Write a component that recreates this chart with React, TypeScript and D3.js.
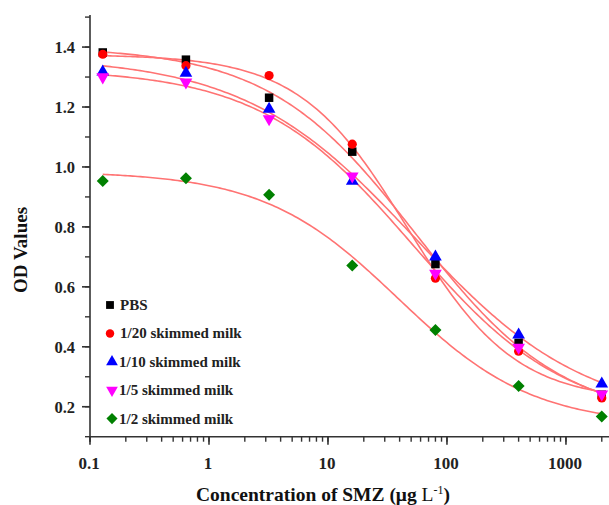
import React, { useRef, useEffect } from "react";
import * as d3 from "d3";

const concentrations = [0.128, 0.64, 3.2, 16, 80, 400, 2000];
const seriesNames = [
  "PBS",
  "1/20 skimmed milk",
  "1/10 skimmed milk",
  "1/5 skimmed milk",
  "1/2 skimmed milk",
];
const pbsValues = [1.382, 1.358, 1.231, 1.051, 0.676, 0.413, 0.24];
const milk20Values = [1.376, 1.338, 1.305, 1.076, 0.629, 0.385, 0.229];
const milk10Values = [1.317, 1.313, 1.193, 0.953, 0.7, 0.44, 0.276];
const milk5Values = [1.3, 1.283, 1.16, 0.969, 0.645, 0.398, 0.242];
const milk2Values = [0.953, 0.962, 0.907, 0.671, 0.456, 0.269, 0.167];
const seriesValues = [pbsValues, milk20Values, milk10Values, milk5Values, milk2Values];
const seriesColors = ["#000000", "#ff0000", "#0000ff", "#ff00ff", "#008000"];
const yTicks = [0.2, 0.4, 0.6, 0.8, 1.0, 1.2, 1.4];
const xTicks = [0.1, 1, 10, 100, 1000];

// four-parameter logistic, fitted to each series (like the original curves)
const logistic = (p, x) => p[1] + (p[0] - p[1]) / (1 + Math.pow(x / Math.exp(p[2]), p[3]));

function nelderMead(f, x0, steps, iters = 3000) {
  const n = x0.length;
  let pts = [x0.slice()];
  for (let i = 0; i < n; i++) {
    const p = x0.slice();
    p[i] += steps[i];
    pts.push(p);
  }
  let vals = pts.map(f);
  for (let k = 0; k < iters; k++) {
    const order = d3.range(n + 1).sort((a, b) => vals[a] - vals[b]);
    pts = order.map((i) => pts[i]);
    vals = order.map((i) => vals[i]);
    const c = d3.range(n).map((j) => d3.mean(pts.slice(0, n), (p) => p[j]));
    const worst = pts[n];
    const at = (t) => c.map((cj, j) => cj + t * (worst[j] - cj));
    const xr = at(-1);
    const fr = f(xr);
    if (fr < vals[0]) {
      const xe = at(-2);
      const fe = f(xe);
      if (fe < fr) { pts[n] = xe; vals[n] = fe; } else { pts[n] = xr; vals[n] = fr; }
    } else if (fr < vals[n - 1]) {
      pts[n] = xr; vals[n] = fr;
    } else {
      const xc = at(0.5);
      const fc = f(xc);
      if (fc < vals[n]) {
        pts[n] = xc; vals[n] = fc;
      } else {
        for (let i = 1; i <= n; i++) {
          pts[i] = pts[i].map((v, j) => pts[0][j] + 0.5 * (v - pts[0][j]));
          vals[i] = f(pts[i]);
        }
      }
    }
  }
  return pts[d3.minIndex(vals)];
}

function fitSeries(values) {
  const sse = (p) => d3.sum(concentrations, (x, i) => (logistic(p, x) - values[i]) ** 2);
  const start = [d3.max(values), d3.min(values) - 0.05, Math.log(40), 0.8];
  return nelderMead(sse, start, [0.05, 0.05, 0.5, 0.2]);
}

const width = 609;
const height = 505;

export default function App() {
  const svgRef = useRef(null);

  useEffect(() => {
    const svg = d3.select(svgRef.current);
    svg.selectAll("*").remove();

    const x = d3.scaleLog().domain([0.1, 2300]).range([90, 609]);
    const y = d3.scaleLinear().domain([0.1, 1.507]).range([436.7, 15]);
    const font = "'Liberation Serif', 'Times New Roman', serif";

    // axes
    const axisColor = "#333";
    const g = svg.append("g");
    g.append("line").attr("x1", 90).attr("x2", 90).attr("y1", y(1.507)).attr("y2", y(0.1) + 5)
      .attr("stroke", axisColor).attr("stroke-width", 1.6);
    g.append("line").attr("x1", 90).attr("x2", 609).attr("y1", y(0.1)).attr("y2", y(0.1))
      .attr("stroke", axisColor).attr("stroke-width", 1.6);

    const yMinor = d3.range(0.1, 1.51, 0.1);
    g.selectAll(".ymin").data(yMinor).join("line")
      .attr("x1", 85).attr("x2", 90)
      .attr("y1", (d) => y(d)).attr("y2", (d) => y(d))
      .attr("stroke", axisColor).attr("stroke-width", 1.4);
    g.selectAll(".ymaj").data(yTicks).join("line")
      .attr("x1", 82).attr("x2", 90)
      .attr("y1", (d) => y(d)).attr("y2", (d) => y(d))
      .attr("stroke", axisColor).attr("stroke-width", 1.6);
    g.selectAll(".ylab").data(yTicks).join("text")
      .attr("x", 75).attr("y", (d) => y(d) + 6)
      .attr("text-anchor", "end")
      .attr("font-family", font).attr("font-weight", "bold").attr("font-size", 16.5)
      .attr("fill", "#222")
      .text((d) => d3.format(".1f")(d));

    const xMinor = x.ticks().filter((t) => t < 2300);
    g.selectAll(".xmin").data(xMinor).join("line")
      .attr("x1", (d) => x(d)).attr("x2", (d) => x(d))
      .attr("y1", y(0.1)).attr("y2", y(0.1) + 5)
      .attr("stroke", axisColor).attr("stroke-width", 1.4);
    g.selectAll(".xmaj").data(xTicks).join("line")
      .attr("x1", (d) => x(d)).attr("x2", (d) => x(d))
      .attr("y1", y(0.1)).attr("y2", y(0.1) + 8)
      .attr("stroke", axisColor).attr("stroke-width", 1.6);
    g.selectAll(".xlab").data(xTicks).join("text")
      .attr("x", (d) => x(d) - 1).attr("y", 469)
      .attr("text-anchor", "middle")
      .attr("font-family", font).attr("font-weight", "bold").attr("font-size", 17)
      .attr("fill", "#222")
      .text((d) => String(d));

    // axis titles
    svg.append("text")
      .attr("transform", "translate(27,250) rotate(-90)")
      .attr("text-anchor", "middle")
      .attr("font-family", font).attr("font-weight", "bold").attr("font-size", 19)
      .attr("fill", "#111")
      .text("OD Values");
    const xt = svg.append("text")
      .attr("x", 323).attr("y", 501)
      .attr("text-anchor", "middle")
      .attr("font-family", font).attr("font-weight", "bold").attr("font-size", 19.5)
      .attr("fill", "#111");
    xt.append("tspan").text("Concentration of SMZ (\u03bcg ");
    xt.append("tspan").attr("font-weight", "normal").text("L");
    xt.append("tspan").attr("font-weight", "normal").attr("font-size", 12).attr("dy", -7).text("-1");
    xt.append("tspan").attr("dy", 7).text(")");

    // fitted curves
    const samples = d3.range(0, 201).map((i) => 0.128 * Math.pow(2000 / 0.128, i / 200));
    const line = d3.line().x((d) => x(d[0])).y((d) => y(d[1])).curve(d3.curveLinear);
    seriesValues.forEach((vals) => {
      const p = fitSeries(vals);
      svg.append("path")
        .attr("d", line(samples.map((s) => [s, logistic(p, s)])))
        .attr("fill", "none").attr("stroke", "#ff7373").attr("stroke-width", 1.6);
    });

    // markers
    const shapes = [
      { type: d3.symbolSquare, size: 72, rot: 0 },
      { type: d3.symbolCircle, size: 66, rot: 0 },
      { type: d3.symbolTriangle, size: 70, rot: 0 },
      { type: d3.symbolTriangle, size: 70, rot: 180 },
      { type: d3.symbolSquare, size: 72, rot: 45 },
    ];
    seriesValues.forEach((vals, si) => {
      const sh = shapes[si];
      svg.append("g").selectAll("path").data(vals).join("path")
        .attr("d", d3.symbol().type(sh.type).size(sh.size)())
        .attr("transform", (d, i) => `translate(${x(concentrations[i])},${y(d)}) rotate(${sh.rot})`)
        .attr("fill", seriesColors[si]);
    });

    // legend
    const leg = svg.append("g");
    seriesNames.forEach((name, si) => {
      const sh = shapes[si];
      const ly = 305 + si * 28.4;
      leg.append("path")
        .attr("d", d3.symbol().type(sh.type).size(sh.size * 0.85)())
        .attr("transform", `translate(${si < 2 ? 110 : 112},${ly}) rotate(${sh.rot})`)
        .attr("fill", seriesColors[si]);
      leg.append("text")
        .attr("x", si < 2 ? 120 : 119).attr("y", ly + 5)
        .attr("font-family", font).attr("font-weight", "bold").attr("font-size", 15)
        .attr("fill", "#222")
        .text(name);
    });
  }, []);

  return (
    <svg
      ref={svgRef}
      width={width}
      height={height}
      style={{ position: "absolute", left: 0, top: 0, background: "#fff" }}
    />
  );
}
